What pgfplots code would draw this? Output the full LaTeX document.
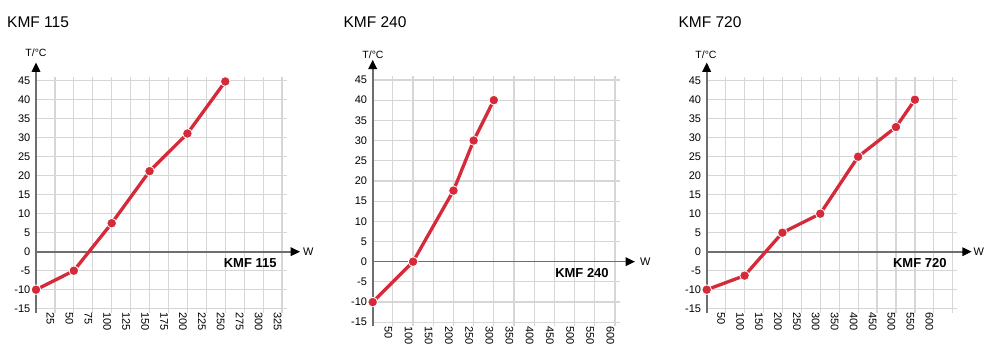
\documentclass[border=0pt]{standalone}
\usepackage{fontspec}
\setmainfont{Liberation Sans}
\usepackage{pgfplots}
\pgfplotsset{compat=1.18}
\usetikzlibrary{arrows.meta}
\definecolor{kred}{HTML}{D42A3A}
\definecolor{kaxis}{HTML}{6E6E6E}
\definecolor{kgrid}{HTML}{D6D6D6}
\tikzset{karrow/.style={kaxis, line width=1.6pt, -{Triangle[width=8.6pt,length=9.4pt,color=black]}}}
\pgfplotsset{
  kmf/.style={
    scale only axis,
    axis line style={draw=none},
    tick style={draw=none},
    grid=major,
    major grid style={kgrid, line width=1.2pt},
    ymin=-16, ymax=46,
    ytick={-15,-10,...,45},
    /pgf/number format/assume math mode=true,
    ticklabel style={font=\fontsize{11}{11}\selectfont},
    yticklabel style={anchor=east, xshift=-5.5pt, inner sep=0pt},
    xticklabel style={rotate=-90, anchor=west, inner sep=0pt, yshift=-4.5pt},
    clip=false,
  },
  kline/.style={kred, line width=3.3pt, mark=*, mark size=4.8pt,
    mark options={fill=kred, draw=white, line width=0.8pt}},
}
\begin{document}
\begin{tikzpicture}[x=1pt,y=1pt]
\useasboundingbox (0,0) rectangle (1000,360);
% ---------- Panel 1 ----------
\begin{axis}[kmf, at={(36pt,47.5pt)}, anchor=south west,
  width=250.6pt, height=235.6pt,
  xmin=0, xmax=331,
  xtick={25,50,...,325}]
  \draw[kaxis, line width=1.6pt] (axis cs:0,-16) -- (axis cs:0,0);
  \draw[karrow] (axis cs:0,0) -- (axis cs:0,49.8);
  \draw[karrow] (axis cs:0,0) -- (axis cs:348.8,0);
  \addplot[kline] coordinates {(0,-10) (50,-5) (100,7.5) (150,21.2) (200,31.1) (250,44.8)};
  \node[anchor=east, inner sep=0pt, font=\fontsize{13}{13}\selectfont\bfseries] at (axis cs:318,-2.9) {KMF 115};
\end{axis}
% ---------- Panel 2 ----------
\begin{axis}[kmf, at={(372.7pt,33.7pt)}, anchor=south west,
  width=247.1pt, height=250.4pt,
  xmin=0, xmax=612,
  xtick={50,100,...,600}]
  \draw[kaxis, line width=1.6pt] (axis cs:0,-16) -- (axis cs:0,0);
  \draw[karrow] (axis cs:0,0) -- (axis cs:0,50);
  \draw[karrow] (axis cs:0,0) -- (axis cs:649.6,0);
  \addplot[kline] coordinates {(0,-10) (100,0) (200,17.6) (250,30) (300,40)};
  \node[anchor=east, inner sep=0pt, font=\fontsize{13}{13}\selectfont\bfseries] at (axis cs:585,-2.7) {KMF 240};
\end{axis}
% ---------- Panel 3 ----------
\begin{axis}[kmf, at={(706.7pt,47.5pt)}, anchor=south west,
  width=250.1pt, height=235.6pt,
  xmin=0, xmax=660.7,
  xtick={50,100,...,650},
  xticklabels={50,100,150,200,250,300,350,400,450,500,550,600,{}}]
  \draw[kaxis, line width=1.6pt] (axis cs:0,-16) -- (axis cs:0,0);
  \draw[karrow] (axis cs:0,0) -- (axis cs:0,49.8);
  \draw[karrow] (axis cs:0,0) -- (axis cs:700,0);
  \addplot[kline] coordinates {(0,-10) (100,-6.3) (200,5) (300,10) (400,25) (500,32.8) (550,40)};
  \node[anchor=east, inner sep=0pt, font=\fontsize{13}{13}\selectfont\bfseries] at (axis cs:634,-2.9) {KMF 720};
\end{axis}
% ---------- titles and axis names ----------
\begin{scope}[every node/.style={inner sep=0pt}]
\node[anchor=base west, font=\fontsize{15.5}{15.5}\selectfont] at (7,332.3) {KMF 115};
\node[anchor=base west, font=\fontsize{15.5}{15.5}\selectfont] at (343.3,332.3) {KMF 240};
\node[anchor=base west, font=\fontsize{15.5}{15.5}\selectfont] at (678.3,332.3) {KMF 720};
\node[anchor=base, font=\fontsize{10.5}{10.5}\selectfont] at (36,303.3) {T/°C};
\node[anchor=base, font=\fontsize{10.5}{10.5}\selectfont] at (373,301.7) {T/°C};
\node[anchor=base, font=\fontsize{10.5}{10.5}\selectfont] at (706,301.7) {T/°C};
\node[anchor=west, font=\fontsize{11}{11}\selectfont] at (303,108.3) {W};
\node[anchor=west, font=\fontsize{11}{11}\selectfont] at (640,98.3) {W};
\node[anchor=west, font=\fontsize{11}{11}\selectfont] at (973.3,108.3) {W};
\end{scope}
\end{tikzpicture}
\end{document}
